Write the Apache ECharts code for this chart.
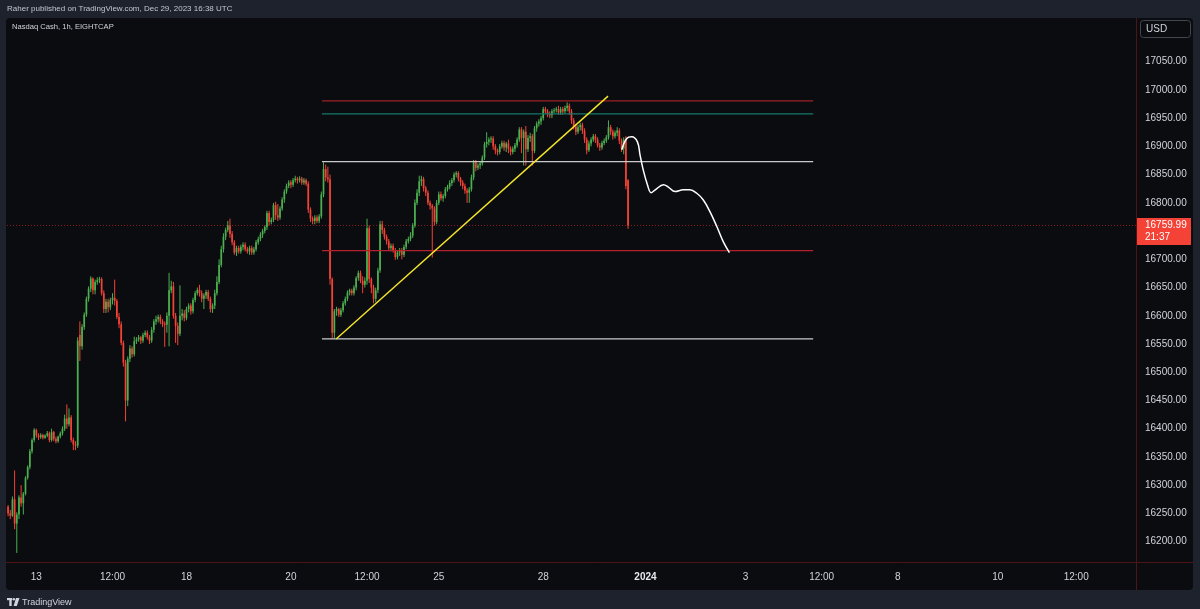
<!DOCTYPE html>
<html><head><meta charset="utf-8">
<script src="https://cdn.jsdelivr.net/npm/echarts@6/dist/echarts.min.js"></script>
<style>
html,body{margin:0;padding:0;background:#1e222d;}
#wrap{position:relative;width:1200px;height:609px;overflow:hidden;background:#1e222d;}
#pane{position:absolute;left:6px;top:18px;width:1187px;height:572px;background:#0b0c10;border-radius:4px;}
#chart{position:absolute;left:0;top:0;width:1200px;height:609px;}
</style></head>
<body><div id="wrap"><div id="pane"></div><div id="chart"></div></div>
<script>
// [open, close, low, high] per hourly bar
const candles = [
[16262,16250,16245,16265],[16250,16246,16240,16256],[16246,16275,16244,16280],[16275,16232,16222,16326],[16232,16248,16180,16252],
[16248,16278,16240,16282],[16278,16268,16262,16300],[16268,16285,16248,16288],[16285,16313,16282,16316],[16313,16332,16310,16335],
[16332,16360,16328,16364],[16360,16380,16356,16383],[16380,16398,16376,16401],[16398,16388,16384,16400],[16388,16385,16380,16392],
[16385,16389,16382,16392],[16389,16384,16381,16391],[16384,16388,16382,16390],[16388,16392,16385,16396],[16392,16380,16376,16395],
[16380,16394,16377,16400],[16394,16382,16378,16396],[16382,16378,16374,16386],[16378,16386,16375,16388],[16386,16392,16383,16395],
[16392,16400,16388,16404],[16400,16418,16396,16425],[16418,16408,16400,16443],[16408,16420,16404,16436],[16420,16380,16376,16424],
[16380,16372,16362,16384],[16372,16370,16362,16378],[16370,16556,16366,16562],[16566,16546,16520,16590],[16546,16580,16540,16585],
[16580,16602,16575,16606],[16602,16630,16598,16634],[16630,16648,16625,16652],[16648,16666,16642,16670],[16666,16645,16638,16668],
[16645,16660,16638,16664],[16660,16663,16655,16668],[16663,16665,16658,16669],[16665,16640,16636,16668],[16640,16612,16605,16645],
[16612,16625,16605,16630],[16625,16615,16606,16630],[16615,16628,16610,16632],[16628,16632,16620,16640],[16632,16626,16618,16664],
[16626,16598,16594,16630],[16598,16585,16578,16605],[16585,16552,16548,16590],[16552,16517,16510,16556],[16517,16450,16413,16522],
[16450,16524,16440,16528],[16524,16542,16518,16548],[16542,16532,16526,16546],[16532,16555,16528,16563],[16555,16558,16550,16562],
[16558,16562,16554,16566],[16562,16556,16550,16564],[16556,16566,16552,16570],[16566,16570,16562,16574],[16570,16562,16558,16574],
[16562,16556,16550,16566],[16556,16575,16552,16580],[16575,16590,16570,16594],[16590,16594,16584,16600],[16594,16598,16588,16602],
[16598,16590,16585,16602],[16590,16586,16580,16594],[16586,16584,16545,16590],[16584,16600,16570,16606],[16600,16645,16546,16676],
[16645,16652,16640,16662],[16652,16600,16595,16660],[16600,16582,16552,16605],[16582,16568,16548,16588],[16568,16600,16564,16654],
[16600,16604,16592,16612],[16604,16596,16590,16610],[16596,16612,16592,16616],[16612,16618,16606,16622],[16618,16608,16602,16622],
[16608,16628,16604,16632],[16628,16640,16624,16644],[16640,16646,16636,16650],[16646,16640,16634,16655],[16640,16630,16624,16645],
[16630,16636,16612,16640],[16636,16642,16630,16646],[16642,16630,16626,16646],[16630,16612,16606,16634],[16612,16618,16605,16622],
[16618,16640,16612,16646],[16640,16660,16636,16670],[16660,16690,16656,16700],[16690,16718,16686,16724],[16718,16740,16712,16746],
[16740,16752,16734,16756],[16752,16760,16748,16768],[16760,16745,16738,16772],[16745,16730,16725,16750],[16730,16712,16708,16734],
[16712,16720,16706,16724],[16720,16714,16710,16724],[16714,16722,16710,16726],[16722,16726,16716,16730],[16726,16718,16714,16730],
[16718,16714,16710,16722],[16714,16720,16708,16724],[16720,16712,16708,16724],[16712,16718,16708,16722],[16718,16730,16714,16734],
[16730,16736,16726,16740],[16736,16744,16732,16748],[16744,16750,16738,16754],[16750,16757,16746,16760],[16757,16782,16752,16786],
[16782,16766,16760,16786],[16766,16770,16762,16774],[16770,16796,16766,16800],[16796,16778,16770,16802],[16778,16774,16768,16798],
[16774,16790,16770,16794],[16790,16806,16786,16810],[16806,16820,16800,16824],[16820,16830,16816,16834],[16830,16836,16826,16840],
[16836,16832,16826,16840],[16832,16840,16828,16844],[16840,16843,16836,16848],[16843,16840,16834,16846],[16840,16843,16836,16847],
[16843,16836,16832,16846],[16836,16840,16832,16844],[16840,16834,16830,16843],[16834,16788,16782,16838],[16788,16772,16766,16792],
[16772,16768,16762,16776],[16768,16774,16762,16778],[16774,16768,16764,16778],[16768,16776,16764,16780],[16776,16815,16772,16820],
[16815,16860,16810,16872],[16860,16845,16838,16868],[16845,16842,16836,16864],[16842,16665,16655,16850],[16665,16570,16559,16668],
[16570,16608,16560,16612],[16608,16612,16600,16616],[16612,16602,16598,16614],[16602,16610,16598,16614],[16610,16622,16606,16626],
[16622,16630,16618,16634],[16630,16641,16626,16645],[16641,16645,16636,16648],[16645,16640,16636,16648],[16640,16650,16636,16654],
[16650,16667,16645,16670],[16667,16676,16662,16680],[16676,16662,16658,16680],[16662,16655,16640,16670],[16655,16662,16650,16668],
[16662,16755,16655,16772],[16755,16665,16658,16760],[16665,16650,16640,16668],[16650,16630,16622,16655],[16630,16645,16624,16650],
[16645,16680,16640,16685],[16680,16762,16676,16768],[16762,16752,16745,16768],[16752,16740,16735,16756],[16740,16732,16726,16744],
[16732,16720,16716,16736],[16720,16724,16714,16728],[16724,16716,16712,16728],[16716,16704,16699,16720],[16704,16712,16700,16716],
[16712,16716,16706,16720],[16716,16708,16700,16720],[16708,16722,16704,16726],[16722,16732,16718,16736],[16732,16736,16728,16740],
[16736,16742,16732,16748],[16742,16760,16738,16764],[16760,16800,16756,16806],[16800,16818,16796,16824],[16818,16838,16812,16848],
[16838,16842,16830,16848],[16842,16826,16820,16846],[16826,16818,16812,16830],[16818,16800,16796,16822],[16800,16795,16788,16804],
[16795,16790,16703,16798],[16790,16766,16760,16794],[16766,16800,16762,16805],[16800,16815,16796,16820],[16815,16808,16804,16820],
[16808,16812,16802,16816],[16812,16824,16808,16828],[16824,16828,16820,16832],[16828,16835,16824,16840],[16835,16840,16830,16844],
[16840,16850,16836,16854],[16850,16853,16845,16856],[16853,16843,16838,16856],[16843,16836,16830,16846],[16836,16830,16824,16840],
[16830,16822,16816,16834],[16822,16818,16800,16826],[16818,16824,16800,16828],[16824,16845,16820,16850],[16845,16872,16840,16876],
[16872,16862,16856,16876],[16862,16866,16858,16870],[16866,16870,16860,16874],[16870,16880,16866,16884],[16880,16904,16876,16908],
[16904,16908,16898,16925],[16908,16912,16902,16916],[16912,16914,16906,16918],[16914,16900,16894,16918],[16900,16893,16886,16904],
[16893,16890,16884,16896],[16890,16900,16886,16904],[16900,16906,16896,16910],[16906,16898,16892,16910],[16898,16905,16890,16908],
[16905,16896,16888,16912],[16896,16890,16884,16900],[16890,16896,16886,16900],[16896,16902,16890,16906],[16902,16912,16898,16916],
[16912,16930,16908,16934],[16930,16915,16888,16934],[16915,16926,16866,16930],[16926,16895,16866,16936],[16895,16915,16890,16920],
[16915,16918,16908,16924],[16918,16892,16866,16922],[16892,16932,16888,16936],[16932,16940,16926,16944],[16940,16944,16935,16948],
[16944,16950,16938,16954],[16950,16966,16946,16970],[16966,16962,16958,16970],[16962,16958,16952,16966],[16958,16955,16950,16962],
[16955,16962,16950,16966],[16962,16964,16958,16968],[16964,16966,16960,16970],[16966,16960,16956,16972],[16960,16966,16956,16970],
[16966,16962,16956,16970],[16962,16968,16958,16972],[16968,16972,16962,16978],[16972,16962,16956,16976],[16962,16946,16940,16966],
[16946,16935,16930,16950],[16935,16926,16920,16940],[16926,16934,16922,16938],[16934,16938,16928,16942],[16938,16928,16922,16942],
[16928,16912,16906,16932],[16912,16893,16886,16916],[16893,16905,16890,16910],[16905,16912,16900,16916],[16912,16918,16908,16922],
[16918,16912,16906,16922],[16912,16902,16898,16916],[16902,16898,16892,16906],[16898,16906,16894,16910],[16906,16910,16902,16914],
[16910,16916,16906,16920],[16916,16934,16912,16946],[16934,16926,16920,16938],[16926,16918,16912,16930],[16918,16924,16914,16928],
[16924,16928,16918,16934],[16928,16910,16904,16932],[16910,16896,16890,16914],[16896,16912,16886,16916],[16912,16830,16824,16918],
[16840,16759.99,16754,16842]
];

const categoryCount = 519;               // hourly slots incl. future space
const tickIndex = [13, 48, 82, 130, 165, 198, 246, 293, 339, 374, 409, 455, 491];
const tickText  = ['13', '12:00', '18', '20', '12:00', '25', '28', '2024', '3', '12:00', '8', '10', '12:00'];

const yMin = 16150, yMax = 17150, yStep = 50;
const yLabelMin = 16200, yLabelMax = 17050;

// drawn levels (price) spanning bar index levelFrom..levelTo
const levelFrom = 144.3, levelTo = 370.1;
const levelPrices = [16980.4, 16957.4, 16873, 16715.3, 16559];

// yellow trend line
const trendX = [150.8, 275.8];
const trendY = [16559, 16989];

// white projected path
const projX = [282.1, 284.4, 286.7, 289.3, 290.5, 291.8, 293.9, 295.6, 297.5, 301.3, 303.5, 306.6, 310.4, 313.4, 316.6, 319.6, 322.7, 325.8, 328.8, 331.6];
const projY = [16894, 16914, 16917, 16908, 16885, 16861, 16832, 16818, 16823, 16832, 16828, 16820, 16823, 16823, 16817, 16805, 16784, 16758, 16731, 16712];

const lastPrice = 16759.99;
const lastTime = '21:37';

const categories = Array.from({length: categoryCount}, () => '');
tickIndex.forEach((k, j) => { categories[k] = tickText[j]; });

const UP = '#4caf50', DOWN = '#f44336';
const levelColors = ['#9e1f27', '#15786b', '#c9c9c9', '#b3222c', '#c9c9c9'];
const FONT = '"Liberation Sans", Arial, sans-serif';

function renderCandle(params, api) {
  const i = api.value(0);
  const o = api.value(1), c = api.value(2), l = api.value(3), h = api.value(4);
  const pO = api.coord([i, o]), pC = api.coord([i, c]);
  const pL = api.coord([i, l]), pH = api.coord([i, h]);
  const color = c >= o ? UP : DOWN;
  const cx = pO[0];
  const bw = 1.7;
  const top = Math.min(pO[1], pC[1]);
  const hgt = Math.max(1, Math.abs(pO[1] - pC[1]));
  return {
    type: 'group',
    children: [
      {type: 'line', shape: {x1: cx, y1: pH[1], x2: cx, y2: pL[1]}, style: {stroke: color, lineWidth: 1}},
      {type: 'rect', shape: {x: cx - bw / 2, y: top, width: bw, height: hgt}, style: {fill: color}}
    ]
  };
}

const series = [{
  type: 'custom',
  xAxisIndex: 0, yAxisIndex: 0,
  data: candles.map((d, i) => [i, d[0], d[1], d[2], d[3]]),
  renderItem: renderCandle,
  encode: {x: 0, y: [1, 2, 3, 4]},
  silent: true, z: 2
}];

series.push({
  type: 'line', xAxisIndex: 1, yAxisIndex: 0, symbol: 'none', silent: true,
  data: [[-0.5, lastPrice], [categoryCount - 0.5, lastPrice]],
  lineStyle: {color: '#8e1d22', width: 1, type: [1, 2]}, z: 1
});

levelPrices.forEach((p, k) => {
  series.push({
    type: 'line', xAxisIndex: 1, yAxisIndex: 0, symbol: 'none', silent: true,
    data: [[levelFrom, p], [levelTo, p]],
    lineStyle: {color: levelColors[k], width: 1.3}, z: 3
  });
});

series.push({
  type: 'line', xAxisIndex: 1, yAxisIndex: 0, symbol: 'none', silent: true,
  data: trendX.map((x, k) => [x, trendY[k]]),
  lineStyle: {color: '#f5e52b', width: 1.4}, z: 4
});

series.push({
  type: 'line', xAxisIndex: 1, yAxisIndex: 0, symbol: 'none', silent: true, smooth: 0.4,
  data: projX.map((x, k) => [x, projY[k]]),
  lineStyle: {color: '#ffffff', width: 1.5}, z: 4
});

const chart = echarts.init(document.getElementById('chart'), null, {renderer: 'canvas'});
chart.setOption({
  animation: false,
  backgroundColor: 'transparent',
  textStyle: {fontFamily: FONT},
  grid: {left: 7, right: 64, top: 5.2, height: 564.7, containLabel: false},
  xAxis: [{
    type: 'category', data: categories, boundaryGap: true,
    axisLine: {show: false}, axisTick: {show: false}, splitLine: {show: false},
    axisLabel: {
      interval: (idx, val) => val !== '',
      color: '#d1d4dc', fontSize: 10, margin: 2, fontFamily: FONT,
      formatter: v => v === '2024' ? '{b|2024}' : v,
      rich: {b: {fontWeight: 'bold', color: '#e6e8ee', fontSize: 10, fontFamily: FONT}}
    }
  }, {
    type: 'value', min: -0.5, max: categoryCount - 0.5, show: false
  }],
  yAxis: [{
    type: 'value', position: 'right', min: yMin, max: yMax, interval: yStep, scale: true,
    axisLine: {show: false}, axisTick: {show: false}, splitLine: {show: false},
    axisLabel: {
      color: '#d1d4dc', fontSize: 10, margin: 9, fontFamily: FONT,
      formatter: v => (v < yLabelMin || v > yLabelMax || Math.abs(v - lastPrice) < 25) ? '' : v.toFixed(2)
    }
  }],
  series: series,
  graphic: [
    {type: 'text', left: 7, top: 4.5, z: 50, style: {text: 'Raher published on TradingView.com, Dec 29, 2023 16:38 UTC', fill: '#c3c6ce', font: '8px ' + FONT}},
    {type: 'text', left: 12, top: 23, z: 50, style: {text: 'Nasdaq Cash, 1h, EIGHTCAP', fill: '#d1d4dc', font: '7.6px ' + FONT}},
    {type: 'line', z: 40, shape: {x1: 1136.5, y1: 18, x2: 1136.5, y2: 590}, style: {stroke: '#4d1518', lineWidth: 1}},
    {type: 'line', z: 40, shape: {x1: 6, y1: 562.5, x2: 1193, y2: 562.5}, style: {stroke: '#4d1518', lineWidth: 1}},
    {type: 'rect', z: 50, shape: {x: 1140.5, y: 20.5, width: 50, height: 17, r: 3}, style: {fill: '#0b0c10', stroke: '#434651', lineWidth: 1}},
    {type: 'text', left: 1146, top: 24, z: 51, style: {text: 'USD', fill: '#d1d4dc', font: '10px ' + FONT}},
    {type: 'rect', z: 50, shape: {x: 1137, y: 218, width: 54, height: 27}, style: {fill: '#f44336'}},
    {type: 'text', left: 1145, top: 220, z: 51, style: {text: lastPrice.toFixed(2), fill: '#ffffff', font: '10px ' + FONT}},
    {type: 'text', left: 1145, top: 232, z: 51, style: {text: lastTime, fill: '#ffffff', font: '10px ' + FONT}},
    {type: 'rect', z: 50, shape: {x: 7, y: 598, width: 5, height: 2.2}, style: {fill: '#d1d4dc'}},
    {type: 'rect', z: 50, shape: {x: 9.3, y: 598, width: 2.4, height: 8}, style: {fill: '#d1d4dc'}},
    {type: 'circle', z: 50, shape: {cx: 13.8, cy: 599.2, r: 1.3}, style: {fill: '#d1d4dc'}},
    {type: 'polygon', z: 50, shape: {points: [[16, 598], [19.5, 598], [16.8, 606], [13.6, 606]]}, style: {fill: '#d1d4dc'}},
    {type: 'text', left: 22, top: 598, z: 50, style: {text: 'TradingView', fill: '#d1d4dc', font: '9px ' + FONT}}
  ]
});
</script>
</body></html>
